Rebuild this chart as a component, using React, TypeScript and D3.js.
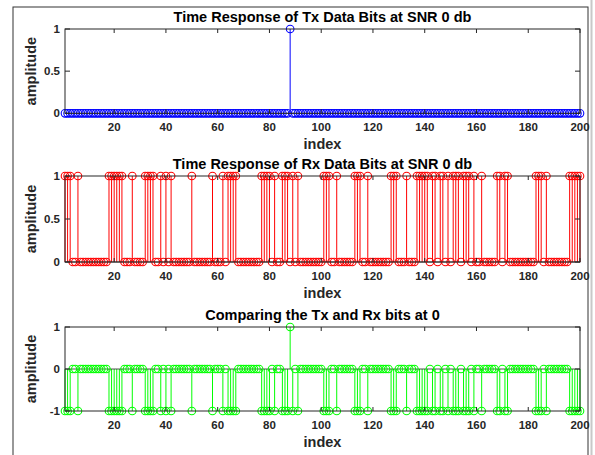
import React from 'react';
import * as d3 from 'd3';

// bit positions (1-based index) that are 1
const N = 200;
const txOnes = [88];
const rxOnes = [
  1, 2, 3, 6, 18, 19, 20, 21, 22, 23, 27, 32, 33, 34, 35, 38, 40, 42, 50, 58,
  62, 64, 65, 66, 67, 77, 78, 79, 80, 82, 85, 86, 87, 89, 91, 101, 102, 103,
  106, 113, 114, 115, 118, 127, 128, 129, 133, 137, 138, 139, 140, 141, 143,
  144, 146, 147, 149, 151, 152, 153, 155, 156, 157, 159, 162, 168, 169, 171,
  172, 183, 184, 185, 187, 196, 197, 198, 199, 200,
];
const xTicks = [20, 40, 60, 80, 100, 120, 140, 160, 180, 200];
const titles = [
  'Time Response of Tx Data Bits at SNR 0 db',
  'Time Response of Rx Data Bits at SNR 0 db',
  'Comparing the Tx and Rx bits at 0',
];

const FONT = '"Liberation Sans", Arial, Helvetica, sans-serif';
const AX = '#262626';

const indices = d3.range(1, N + 1);
const tx = indices.map(i => (txOnes.includes(i) ? 1 : 0));
const rx = indices.map(i => (rxOnes.includes(i) ? 1 : 0));
const cmp = tx.map((v, k) => v - rx[k]);

const x = d3.scaleLinear().domain([1, N]).range([65, 580]);

type PanelProps = {
  values: number[];
  color: string;
  top: number;
  bottom: number;
  yDomain: [number, number];
  yTicks: number[];
  title: string;
};

function Panel({ values, color, top, bottom, yDomain, yTicks, title }: PanelProps) {
  const y = d3.scaleLinear().domain(yDomain).range([bottom, top]);
  const [x0, x1] = x.range();
  // matlab style labels: plain hyphen for negatives
  const fmt = (t: number) => String(t);
  return (
    <g>
      {/* stems */}
      {values.map((v, k) =>
        v !== 0 ? (
          <line key={'s' + k} x1={x(k + 1)} x2={x(k + 1)} y1={y(0)} y2={y(v)} stroke={color} strokeWidth={1} />
        ) : null
      )}
      {/* baseline */}
      <line x1={x0} x2={x1} y1={y(0)} y2={y(0)} stroke={AX} strokeWidth={0.8} />
      {/* markers */}
      {values.map((v, k) => (
        <circle key={'m' + k} cx={x(k + 1)} cy={y(v)} r={3.8} fill="none" stroke={color} strokeWidth={1.1} />
      ))}
      {/* box */}
      <rect x={x0} y={top} width={x1 - x0} height={bottom - top} fill="none" stroke={AX} strokeWidth={1} />
      {xTicks.map(t => (
        <g key={'xt' + t}>
          <line x1={x(t)} x2={x(t)} y1={bottom} y2={bottom - 4} stroke={AX} />
          <line x1={x(t)} x2={x(t)} y1={top} y2={top + 4} stroke={AX} />
          <text x={x(t)} y={bottom + 17.5} textAnchor="middle" fontSize={11.5} fontWeight="bold" fill={AX} fontFamily={FONT}>
            {t}
          </text>
        </g>
      ))}
      {yTicks.map(t => (
        <g key={'yt' + t}>
          <line x1={x0} x2={x0 + 5} y1={y(t)} y2={y(t)} stroke={AX} />
          <line x1={x1} x2={x1 - 5} y1={y(t)} y2={y(t)} stroke={AX} />
          <text x={x0 - 5} y={y(t) + 4} textAnchor="end" fontSize={11.5} fontWeight="bold" fill={AX} fontFamily={FONT}>
            {fmt(t)}
          </text>
        </g>
      ))}
      <text x={(x0 + x1) / 2} y={top - 7.5} textAnchor="middle" fontSize={14.5} fontWeight="bold" fill="#000" fontFamily={FONT}>
        {title}
      </text>
      <text x={(x0 + x1) / 2} y={bottom + 36} textAnchor="middle" fontSize={14.5} fontWeight="bold" fill={AX} fontFamily={FONT}>
        index
      </text>
      <text
        transform={`translate(36,${(top + bottom) / 2}) rotate(-90)`}
        textAnchor="middle"
        fontSize={14.5}
        fontWeight="bold"
        fill={AX}
        fontFamily={FONT}
      >
        amplitude
      </text>
    </g>
  );
}

export default function App() {
  return (
    <svg width={595} height={455} style={{ position: 'absolute', left: 0, top: 0, background: '#fff' }}>
      <rect x={0} y={0} width={595} height={455} fill="#fff" />
      <rect x={13} y={7} width={575} height={460} fill="none" stroke="#333" strokeWidth={1} />
      <line x1={591.5} x2={591.5} y1={0} y2={455} stroke="#c8c8c8" strokeWidth={2} />
      <Panel values={tx} color="#0000ff" top={29} bottom={113.3} yDomain={[0, 1]} yTicks={[0, 0.5, 1]} title={titles[0]} />
      <Panel values={rx} color="#ff0000" top={176} bottom={262} yDomain={[0, 1]} yTicks={[0, 0.5, 1]} title={titles[1]} />
      <Panel values={cmp} color="#00ff00" top={327} bottom={411} yDomain={[-1, 1]} yTicks={[-1, 0, 1]} title={titles[2]} />
    </svg>
  );
}
